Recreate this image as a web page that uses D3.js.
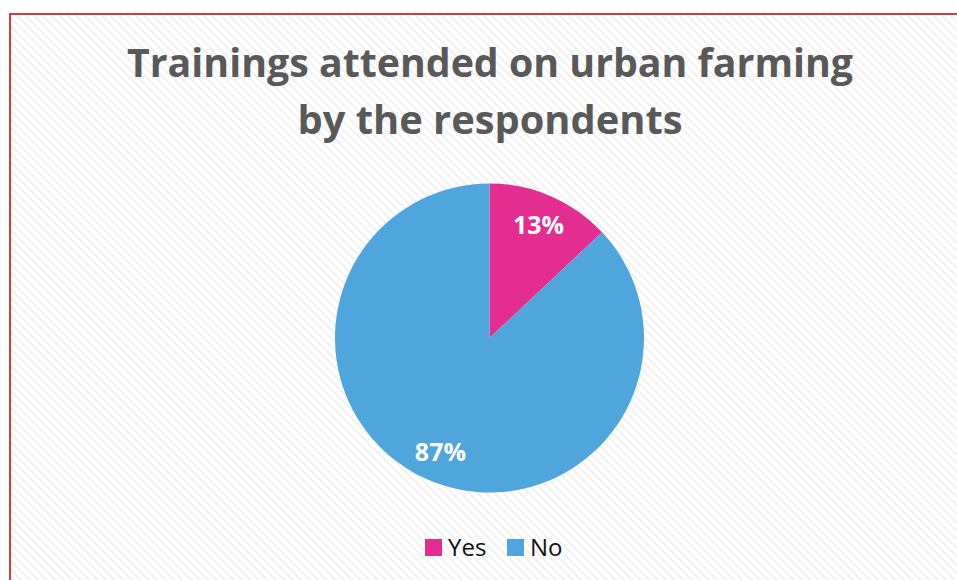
<!DOCTYPE html>
<html>
<head>
<meta charset="utf-8">
<script src="https://cdn.jsdelivr.net/npm/d3@7"></script>
<style>
  body { margin: 0; background: #fff; }
  svg { display: block; }
</style>
</head>
<body>
<script>
(function() {

    var categories = ["Yes", "No"];
    var values = [13, 87];
    var labels = ["13%", "87%"];
    var colors = ["#E32E8F", "#4FA6DC"];

    var width = 957,
        height = 580;

    var svg = d3.select("body")
        .append("svg")
        .attr("width", width)
        .attr("height", height);

    // faint diagonal stripes behind the chart
    var defs = svg.append("defs");
    var pat = defs.append("pattern")
        .attr("id", "stripes")
        .attr("patternUnits", "userSpaceOnUse")
        .attr("width", 6)
        .attr("height", 6)
        .attr("patternTransform", "rotate(-45)");
    pat.append("rect").attr("width", 6).attr("height", 6).attr("fill", "#ffffff");
    pat.append("rect").attr("width", 2).attr("height", 6).attr("fill", "#f1f1f1");

    svg.append("rect")
        .attr("x", 10)
        .attr("y", 14)
        .attr("width", width)
        .attr("height", height)
        .attr("fill", "url(#stripes)")
        .attr("stroke", "#C00000")
        .attr("stroke-width", 1.5);

    var title = svg.append("text")
        .attr("text-anchor", "middle")
        .attr("fill", "#595959")
        .style("font-family", "'Open Sans', sans-serif")
        .style("font-weight", "bold")
        .style("font-size", "40px");
    title.append("tspan").attr("x", 490).attr("y", 77)
        .attr("textLength", 726).attr("lengthAdjust", "spacingAndGlyphs")
        .text("Trainings attended on urban farming");
    title.append("tspan").attr("x", 490).attr("y", 134)
        .attr("textLength", 385).attr("lengthAdjust", "spacingAndGlyphs")
        .text("by the respondents");

    var cx = 489.5, cy = 338, r = 154.5;

    var pie = d3.pie().sort(null).value(function(d) { return d; });
    var arc = d3.arc().innerRadius(0).outerRadius(r);
    var labelArc = d3.arc().innerRadius(r * 0.8).outerRadius(r * 0.8);

    var g = svg.append("g").attr("transform", "translate(" + cx + "," + cy + ")");

    var arcs = pie(values);

    g.selectAll(".slice")
        .data(arcs)
        .enter()
        .append("path")
        .attr("class", "slice")
        .attr("d", arc)
        .attr("fill", function(d, i) { return colors[i]; });

    g.selectAll(".lbl")
        .data(arcs)
        .enter()
        .append("text")
        .attr("class", "lbl")
        .attr("transform", function(d) { return "translate(" + labelArc.centroid(d) + ")"; })
        .attr("text-anchor", "middle")
        .attr("dy", "0.37em")
        .attr("fill", "#ffffff")
        .style("font-family", "'Open Sans', sans-serif")
        .style("font-weight", "bold")
        .style("font-size", "25px")
        .text(function(d, i) { return labels[i]; });

    // legend
    var legendX = [425, 507];
    var legend = svg.selectAll(".legend")
        .data(categories)
        .enter()
        .append("g")
        .attr("class", "legend")
        .attr("transform", function(d, i) { return "translate(" + legendX[i] + ",539)"; });

    legend.append("rect")
        .attr("width", 17)
        .attr("height", 17)
        .attr("fill", function(d, i) { return colors[i]; });

    legend.append("text")
        .attr("x", 23)
        .attr("y", 17)
        .attr("fill", "#111")
        .style("font-family", "'Open Sans', sans-serif")
        .style("font-size", "24px")
        .text(function(d) { return d; });

})();
</script>
</body>
</html>
